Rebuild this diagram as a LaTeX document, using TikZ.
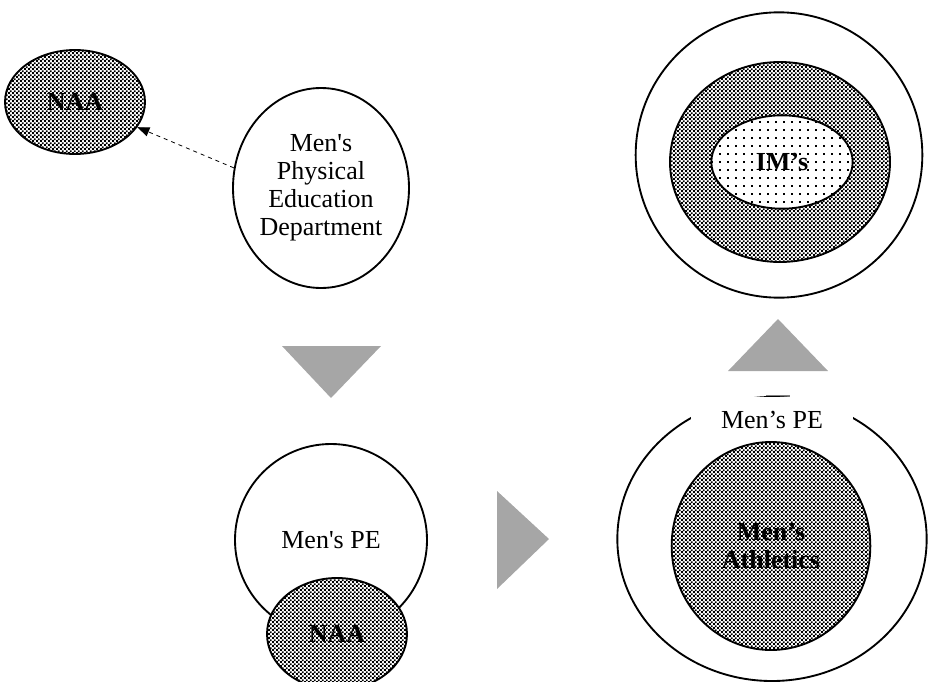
\documentclass[tikz,border=0pt]{standalone}
\usepackage{fontspec}
\setmainfont{Liberation Serif}
\usetikzlibrary{shapes.geometric,patterns,arrows.meta}

\definecolor{arrowgray}{HTML}{A6A6A6}

\pgfdeclarepatternformonly{checkdots}{\pgfpointorigin}{\pgfpoint{3.2pt}{3.2pt}}{\pgfpoint{3.2pt}{3.2pt}}{%
  \pgfpathrectangle{\pgfpointorigin}{\pgfpoint{1.6pt}{1.6pt}}%
  \pgfpathrectangle{\pgfpoint{1.6pt}{1.6pt}}{\pgfpoint{1.6pt}{1.6pt}}%
  \pgfusepath{fill}}
\pgfdeclarepatternformonly{sparsedots}{\pgfpoint{-1pt}{-1pt}}{\pgfpoint{1pt}{1pt}}{\pgfpoint{6pt}{6pt}}{%
  \pgfpathrectangle{\pgfpoint{-0.7pt}{-0.7pt}}{\pgfpoint{1.4pt}{1.4pt}}%
  \pgfusepath{fill}}

\begin{document}
\begin{tikzpicture}[x=0.75pt,y=-0.75pt,
    every node/.style={font=\fontsize{19.5}{21}\selectfont, align=center, inner sep=0pt},
    ring/.style={draw, ellipse, line width=1.4pt},
    naa/.style={ring, preaction={fill=white}, pattern=checkdots,
      font=\fontsize{19.5}{21}\selectfont\bfseries},
    ims/.style={ring, preaction={fill=white}, pattern=sparsedots,
      font=\fontsize{19.5}{21}\selectfont\bfseries}]
  \useasboundingbox (0,0) rectangle (932,682);
  \clip (0,0) rectangle (932,682);

  % before
  \node[naa, minimum width=105pt, minimum height=78pt] (naa1) at (75,102) {NAA};
  \node[ring, minimum width=132pt, minimum height=150pt] (dept) at (321,188)
    {Men\textquotesingle s\\Physical\\Education\\Department};
  \draw[dashed, line width=0.6pt, -{Triangle[length=9pt,width=7pt]}] (dept.167) -- (naa1.-22);

  % steps
  \fill[arrowgray] (282,346) -- (381,346) -- (331,398) -- cycle;
  \fill[arrowgray] (497,491) -- (497,589) -- (549,539) -- cycle;
  \fill[arrowgray] (728,371) -- (828,371) -- (778,319) -- cycle;
  \draw[gray, line width=0.8pt] (766,396) -- (790,396);

  % merged
  \node[ring, minimum width=144pt, minimum height=144pt] (pe1) at (331,540) {Men\textquotesingle s PE};
  \node[naa, minimum width=105pt, minimum height=84pt] (naa2) at (337,634) {NAA};

  % nested
  \node[ring, minimum width=232pt, minimum height=213pt] (pe2) at (772,539) {};
  \node[fill=white, minimum width=121pt, minimum height=34pt] (pe2label) at (772,420) {Men’s PE};
  \node[naa, minimum width=149pt, minimum height=156pt] (athl2) at (771,546) {Men’s\\Athletics};

  % after
  \node[ring, minimum width=215pt, minimum height=214pt] (pe3) at (779,155) {};
  \node[naa, minimum width=165pt, minimum height=150pt] (athl3) at (780,162) {};
  \node[ims, minimum width=106pt, minimum height=70pt] (ims) at (782,162) {IM’s};
\end{tikzpicture}
\end{document}
